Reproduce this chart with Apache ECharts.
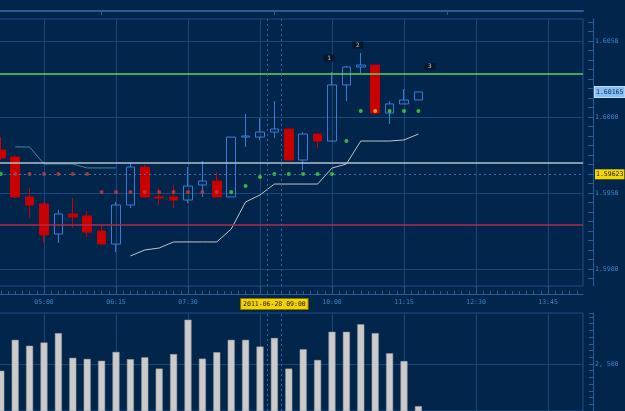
<!DOCTYPE html>
<html>
<head>
<meta charset="utf-8">
<script src="https://cdn.jsdelivr.net/npm/echarts@6/dist/echarts.min.js"></script>
<style>
html, body { margin: 0; padding: 0; background: #02254b; }
#main { width: 625px; height: 411px; }
</style>
</head>
<body>
<div id="main"></div>
<script>
// 15 minute bars, index 0 = 04:15
var xLabelIdx = [3, 8, 13, 23, 28, 33, 38];
var xLabels = ['05:00', '06:15', '07:30', '10:00', '11:15', '12:30', '13:45'];
var xMajorIdx = [3, 8, 13, 18, 23, 28, 33, 38];
var topTickIdx = [7, 19, 31];
var crossIdx = 19;
var crossLabel = '2011-06-28 09:00';

var priceTicks = [1.590, 1.595, 1.600, 1.605];
var volTicks = [2500];
var crossPrice = 1.59623;
var lastPrice = 1.60165;
var levelGreen = 1.60283;
var levelWhite = 1.59699;
var levelRed = 1.59294;

// [open, close, low, high]
var candles = [
    [1.59783, 1.59730, 1.59717, 1.59868],
    [1.59737, 1.59474, 1.59467, 1.59750],
    [1.59474, 1.59421, 1.59336, 1.59533],
    [1.59428, 1.59224, 1.59171, 1.59441],
    [1.59230, 1.59362, 1.59171, 1.59388],
    [1.59362, 1.59342, 1.59270, 1.59467],
    [1.59349, 1.59243, 1.59211, 1.59382],
    [1.59250, 1.59164, 1.59164, 1.59289],
    [1.59164, 1.59421, 1.59112, 1.59441],
    [1.59421, 1.59671, 1.59401, 1.59697],
    [1.59671, 1.59474, 1.59474, 1.59684],
    [1.59474, 1.59467, 1.59421, 1.59533],
    [1.59474, 1.59454, 1.59401, 1.59553],
    [1.59454, 1.59546, 1.59434, 1.59671],
    [1.59553, 1.59579, 1.59474, 1.59711],
    [1.59579, 1.59474, 1.59474, 1.59638],
    [1.59474, 1.59868, 1.59474, 1.59868],
    [1.59868, 1.59875, 1.59803, 1.60020],
    [1.59868, 1.59901, 1.59849, 1.59993],
    [1.59901, 1.59921, 1.59862, 1.60105],
    [1.59921, 1.59717, 1.59717, 1.59921],
    [1.59717, 1.59888, 1.59651, 1.59901],
    [1.59888, 1.59842, 1.59796, 1.59895],
    [1.59842, 1.60211, 1.59836, 1.60296],
    [1.60211, 1.60329, 1.60105, 1.60336],
    [1.60329, 1.60342, 1.60289, 1.60421],
    [1.60342, 1.60026, 1.60013, 1.60342],
    [1.60026, 1.60086, 1.59954, 1.60105],
    [1.60086, 1.60112, 1.60086, 1.60184],
    [1.60112, 1.60165, 1.60112, 1.60165]
];

var volumes = [2250, 3400, 3180, 3300, 3650, 2730, 2690, 2620, 2950, 2680,
               2750, 2330, 2870, 4150, 2700, 2940, 3400, 3400, 3150, 3470,
               2330, 3050, 2650, 3700, 3700, 3980, 3650, 2900, 2610, 930];

var greenDots = [[0, 1.59625], [16, 1.59507], [17, 1.59546], [18, 1.59605], [19, 1.59625],
                 [20, 1.59625], [21, 1.59625], [22, 1.59625], [23, 1.59625], [24, 1.59842],
                 [25, 1.60039], [27, 1.60039], [28, 1.60039], [29, 1.60039]];
var yellowDots = [[26, 1.60039]];
var redDots = [[1, 1.59625], [2, 1.59625], [3, 1.59625], [4, 1.59625], [5, 1.59625], [6, 1.59625],
               [7, 1.59507], [8, 1.59507], [9, 1.59507], [10, 1.59507], [11, 1.59507],
               [12, 1.59507], [13, 1.59507], [14, 1.59507], [15, 1.59507]];

var tealLine = [[1, 1.59803], [2, 1.59803], [3, 1.59691], [4, 1.59691], [5, 1.59691],
                [6, 1.59665], [7, 1.59665], [8, 1.59665]];
var stopLine = [[9, 1.59086], [10, 1.59125], [11, 1.59138], [12, 1.59178], [13, 1.59178],
                [14, 1.59178], [15, 1.59178], [16, 1.59263], [17, 1.59441], [18, 1.59487],
                [19, 1.59559], [20, 1.59559], [21, 1.59559], [22, 1.59559], [23, 1.59664],
                [24, 1.59691], [25, 1.59842], [26, 1.59842], [27, 1.59842], [28, 1.59849],
                [29, 1.59888]];

var markers = [[23, 1.60388, '1'], [25, 1.60474, '2'], [30, 1.60332, '3']];

var XMIN = -0.125, XMAX = 40.43;
var PMIN = 1.58888, PMAX = 1.60645;
var VMIN = 750, VMAX = 4400;

var FONT = 'DejaVu Sans Mono';
var LBL = '#3f84c8';
var GRIDC = '#1b4777';
var FRAME = '#2b5c92';

var candleData = candles.map(function (c, i) { return [i, c[0], c[1], c[2], c[3]]; });
var volData = volumes.map(function (v, i) { return [i, v]; });

var xMinor = [];
for (var k = 0; k <= 81; k++) xMinor.push(k / 2);
var pMinor = [];
for (var p = 1.5875; p <= PMAX; p += 0.000625) {
    var r = Math.round(p * 1e6) / 1e6;
    if (r > PMIN) pMinor.push(r);
}

var myChart = echarts.init(document.getElementById('main'));

var hlLines = [{xAxis: crossIdx - 0.5}, {xAxis: crossIdx + 0.5}];

myChart.setOption({
    animation: false,
    backgroundColor: '#02254b',
    textStyle: {fontFamily: FONT},
    grid: [
        {left: -1, right: 42, top: 19, bottom: 125, show: true, borderColor: '#1f4f84', borderWidth: 1,
         outerBoundsMode: 'none', containLabel: false},
        {left: -1, right: 42, top: 313, bottom: 0, show: true, borderColor: '#1f4f84', borderWidth: 1,
         outerBoundsMode: 'none', containLabel: false}
    ],
    xAxis: [
        {
            type: 'value', gridIndex: 0, min: XMIN, max: XMAX, position: 'bottom', offset: 8,
            axisLine: {show: true, onZero: false, lineStyle: {color: FRAME}},
            axisTick: {show: true, inside: true, length: 8, customValues: xMajorIdx, lineStyle: {color: FRAME}},
            axisLabel: {
                customValues: xLabelIdx.concat([crossIdx]), color: LBL, fontSize: 6.5, fontFamily: FONT, margin: 5,
                formatter: function (v) {
                    if (v === crossIdx) return '{hl|' + crossLabel + '}';
                    var j = xLabelIdx.indexOf(v);
                    return j >= 0 ? xLabels[j] : '';
                },
                rich: {
                    hl: {backgroundColor: '#f2d200', color: '#1a1a00', fontSize: 6.5, fontFamily: FONT,
                         padding: [2, 2, 1, 2], borderColor: '#8a7400', borderWidth: 1}
                }
            },
            splitLine: {show: true, lineStyle: {color: GRIDC, width: 1}}
        },
        {
            type: 'value', gridIndex: 0, min: XMIN, max: XMAX, position: 'bottom', offset: 8,
            axisLine: {show: false, onZero: false},
            axisTick: {show: true, inside: true, length: 3, customValues: xMinor, lineStyle: {color: FRAME}},
            axisLabel: {show: false}, splitLine: {show: false}
        },
        {
            type: 'value', gridIndex: 0, min: XMIN, max: XMAX, position: 'top', offset: 8,
            axisLine: {show: true, onZero: false, lineStyle: {color: FRAME, width: 2}},
            axisTick: {show: true, inside: true, length: 4, customValues: topTickIdx, lineStyle: {color: FRAME}},
            axisLabel: {show: false}, splitLine: {show: false}
        },
        {
            type: 'value', gridIndex: 1, min: XMIN, max: XMAX,
            axisLine: {show: false, onZero: false},
            axisTick: {show: false, customValues: xMajorIdx},
            axisLabel: {show: false},
            splitLine: {show: true, lineStyle: {color: GRIDC, width: 1}}
        }
    ],
    yAxis: [
        {
            // price labels + ticks
            type: 'value', gridIndex: 0, min: PMIN, max: PMAX, position: 'right', offset: 10,
            axisLine: {show: true, onZero: false, lineStyle: {color: FRAME}},
            axisTick: {show: true, inside: true, length: 5, customValues: pMinor, lineStyle: {color: FRAME}},
            axisLabel: {
                customValues: priceTicks.concat([crossPrice, lastPrice]), color: LBL, fontSize: 6.5, fontFamily: FONT, margin: 2,
                formatter: function (v) {
                    if (Math.abs(v - crossPrice) < 1e-7) return '{cur|' + crossPrice.toFixed(5) + '}';
                    if (Math.abs(v - lastPrice) < 1e-7) return '{last|' + lastPrice.toFixed(5) + '}';
                    return v.toFixed(4);
                },
                rich: {
                    cur: {backgroundColor: '#f4d600', color: '#1a1a00', fontSize: 6.5, fontFamily: FONT, padding: [2, 1, 1, 1]},
                    last: {backgroundColor: '#86bff2', color: '#0e2f66', fontSize: 6.5, fontFamily: FONT, padding: [2, 1, 1, 1],
                           borderColor: '#bfe0ff', borderWidth: 1}
                }
            },
            splitLine: {show: false}
        },
        {
            // price grid lines
            type: 'value', gridIndex: 0, min: PMIN, max: PMAX, position: 'left',
            axisLine: {show: false, onZero: false}, axisLabel: {show: false},
            axisTick: {show: false, customValues: priceTicks},
            splitLine: {show: true, lineStyle: {color: GRIDC, width: 1}}
        },
        {
            type: 'value', gridIndex: 1, min: VMIN, max: VMAX, interval: 250, position: 'right', offset: 10,
            axisLine: {show: true, onZero: false, lineStyle: {color: FRAME}},
            axisTick: {show: true, inside: true, length: 4, lineStyle: {color: FRAME}},
            axisLabel: {
                customValues: volTicks, color: LBL, fontSize: 6.5, fontFamily: FONT, margin: 2,
                formatter: function (v) { return v.toLocaleString('en-US').replace(',', ', '); }
            },
            splitLine: {show: false}
        },
        {
            type: 'value', gridIndex: 1, min: VMIN, max: VMAX, position: 'left',
            axisLine: {show: false, onZero: false}, axisLabel: {show: false},
            axisTick: {show: false, customValues: volTicks},
            splitLine: {show: true, lineStyle: {color: GRIDC, width: 1}}
        }
    ],
    series: [
        {
            type: 'line', xAxisIndex: 0, yAxisIndex: 0, data: tealLine, showSymbol: false, silent: true,
            lineStyle: {color: '#3b8a9c', width: 1}
        },
        {
            type: 'line', xAxisIndex: 0, yAxisIndex: 0, data: stopLine, showSymbol: false, silent: true,
            lineStyle: {color: '#c4c4c4', width: 1}
        },
        {
            type: 'candlestick', xAxisIndex: 0, yAxisIndex: 0, data: candleData, barWidth: 9,
            encode: {x: 0, y: [1, 2, 3, 4]},
            itemStyle: {color: 'rgba(0,0,0,0)', borderColor: '#3a7bd6', color0: '#c80000', borderColor0: '#c80000', borderWidth: 1},
            markLine: {
                silent: true, symbol: ['none', 'none'], label: {show: false}, precision: 6,
                data: [
                    {yAxis: levelGreen, lineStyle: {color: '#62d062', width: 1.5, type: 'solid'}},
                    {yAxis: levelWhite, lineStyle: {color: '#b4c0cd', width: 1.5, type: 'solid'}},
                    {yAxis: levelRed, lineStyle: {color: '#b3284a', width: 1.5, type: 'solid'}},
                    {yAxis: crossPrice, lineStyle: {color: '#3a6fa8', width: 1, type: [2, 3]}}
                ].concat(hlLines.map(function (d) {
                    return {xAxis: d.xAxis, lineStyle: {color: '#2f66a3', width: 1, type: [2, 3]}};
                }))
            }
        },
        {
            type: 'scatter', xAxisIndex: 0, yAxisIndex: 0, data: redDots, symbolSize: 4, silent: true,
            itemStyle: {color: '#d03a3a'}
        },
        {
            type: 'scatter', xAxisIndex: 0, yAxisIndex: 0, data: greenDots, symbolSize: 4, silent: true,
            itemStyle: {color: '#3fdc3f'}
        },
        {
            type: 'scatter', xAxisIndex: 0, yAxisIndex: 0, data: yellowDots, symbolSize: 4, silent: true,
            itemStyle: {color: '#d6c832'}
        },
        {
            type: 'scatter', xAxisIndex: 0, yAxisIndex: 0, silent: true,
            data: markers.map(function (m) { return {value: [m[0], m[1]], name: m[2]}; }),
            symbol: 'rect', symbolSize: [11, 7], symbolOffset: [-3, 0],
            itemStyle: {color: '#0a1420'},
            label: {show: true, position: 'inside', formatter: '{b}', color: '#e8e8e8', fontSize: 6, fontFamily: FONT}
        },
        {
            type: 'bar', xAxisIndex: 3, yAxisIndex: 2, data: volData, barWidth: 7, silent: true,
            itemStyle: {color: '#cacaca', borderColor: '#9c9c9c', borderWidth: 0.5},
            markLine: {
                silent: true, symbol: ['none', 'none'], label: {show: false},
                lineStyle: {color: '#2f66a3', width: 1, type: [2, 3]},
                data: hlLines
            }
        }
    ]
});
</script>
</body>
</html>
